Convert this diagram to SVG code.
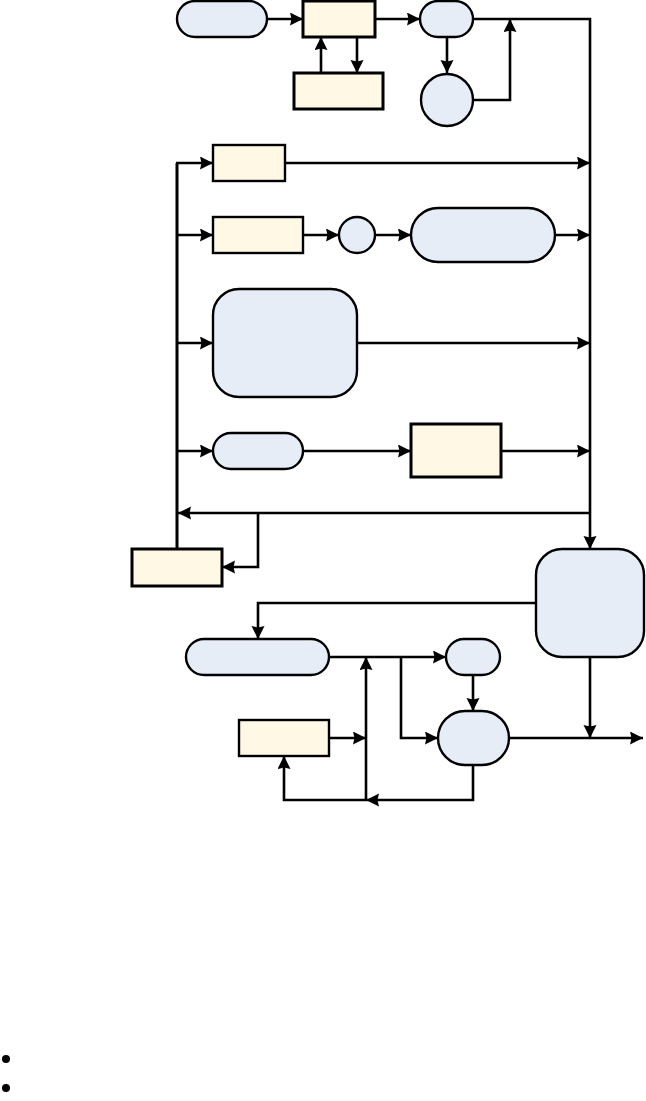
<svg xmlns="http://www.w3.org/2000/svg" width="646" height="1101" viewBox="0 0 646 1101">
<style>
.b{fill:#e6edf7;stroke:#000;stroke-width:2.4}
.y{fill:#fef8e4;stroke:#000;stroke-width:2.4}
.yt{fill:#fef8e4;stroke:#000;stroke-width:3}
.c{fill:none;stroke:#000;stroke-width:2.6}
.t{fill:none;stroke:#000;stroke-width:3}
</style>
<defs>
<marker id="a" markerUnits="userSpaceOnUse" markerWidth="14" markerHeight="14" refX="13" refY="6.5" orient="auto">
<path d="M0,0 L13,6.5 L0,13 L1.5,6.5 z" fill="#000"/>
</marker>
</defs>
<rect width="646" height="1101" fill="#fff"/>
<g id="connectors">
<path class="c" d="M267,19 H303" marker-end="url(#a)"/>
<path class="c" d="M375,19 H420" marker-end="url(#a)"/>
<path class="c" d="M357,37 V73" marker-end="url(#a)"/>
<path class="c" d="M321,73 V37" marker-end="url(#a)"/>
<path class="c" d="M447,37 V73" marker-end="url(#a)"/>
<path class="c" d="M473,100 H510 V19" marker-end="url(#a)"/>
<path class="c" d="M473,19 H590 V549" marker-end="url(#a)"/>
<path class="t" d="M177,549 V163"/>
<path class="c" d="M176,163 H213" marker-end="url(#a)"/>
<path class="c" d="M285,163 H590" marker-end="url(#a)"/>
<path class="c" d="M177,235 H213" marker-end="url(#a)"/>
<path class="c" d="M303,235 H339" marker-end="url(#a)"/>
<path class="c" d="M375,235 H411" marker-end="url(#a)"/>
<path class="c" d="M555,235 H590" marker-end="url(#a)"/>
<path class="c" d="M177,343 H213" marker-end="url(#a)"/>
<path class="c" d="M357,343 H590" marker-end="url(#a)"/>
<path class="c" d="M177,451 H213" marker-end="url(#a)"/>
<path class="c" d="M303,451 H411" marker-end="url(#a)"/>
<path class="c" d="M501,451 H590" marker-end="url(#a)"/>
<path class="c" d="M590,513 H178" marker-end="url(#a)"/>
<path class="c" d="M258,513 V567 H222" marker-end="url(#a)"/>
<path class="c" d="M536,603 H258 V639" marker-end="url(#a)"/>
<path class="c" d="M329,657 H446" marker-end="url(#a)"/>
<path class="c" d="M401,657 V738 H438" marker-end="url(#a)"/>
<path class="c" d="M473,675 V711" marker-end="url(#a)"/>
<path class="c" d="M366,800 V657" marker-end="url(#a)"/>
<path class="c" d="M329,738 H366" marker-end="url(#a)"/>
<path class="c" d="M473,765 V800 H366" marker-end="url(#a)"/>
<path class="c" d="M366,800 H284 V756" marker-end="url(#a)"/>
<path class="c" d="M590,657 V738" marker-end="url(#a)"/>
<path class="c" d="M509,738 H643" marker-end="url(#a)"/>
</g>
<g id="n1"><rect class="b" x="177" y="1" width="90" height="36" rx="18"/></g>
<g id="n2"><rect class="yt" x="303" y="1" width="72" height="36"/></g>
<g id="n3"><rect class="b" x="420" y="1" width="53" height="36" rx="18"/></g>
<g id="n4"><rect class="yt" x="294" y="73" width="89" height="36"/></g>
<g id="n5"><circle class="b" cx="447" cy="100" r="26"/></g>
<g id="n6"><rect class="y" x="213" y="145" width="72" height="36"/></g>
<g id="n7"><rect class="y" x="213" y="217" width="90" height="36"/></g>
<g id="n8"><circle class="b" cx="357" cy="235" r="18"/></g>
<g id="n9"><rect class="b" x="411" y="208" width="144" height="54" rx="27"/></g>
<g id="n10"><rect class="b" x="213" y="289" width="144" height="108" rx="26"/></g>
<g id="n11"><rect class="b" x="213" y="433" width="90" height="36" rx="18"/></g>
<g id="n12"><rect class="yt" x="411" y="424" width="90" height="53"/></g>
<g id="n13"><rect class="yt" x="132" y="549" width="90" height="37"/></g>
<g id="n14"><rect class="b" x="536" y="549" width="108" height="108" rx="26"/></g>
<g id="n15"><rect class="b" x="186" y="639" width="143" height="36" rx="18"/></g>
<g id="n16"><rect class="b" x="446" y="639" width="54" height="36" rx="18"/></g>
<g id="n17"><rect class="b" x="438" y="711" width="71" height="54" rx="27"/></g>
<g id="n18"><rect class="y" x="239" y="720" width="90" height="36"/></g>
<g id="bullets">
<circle cx="6" cy="1059" r="4" fill="#000"/>
<circle cx="6" cy="1088" r="4" fill="#000"/>
</g>
</svg>
